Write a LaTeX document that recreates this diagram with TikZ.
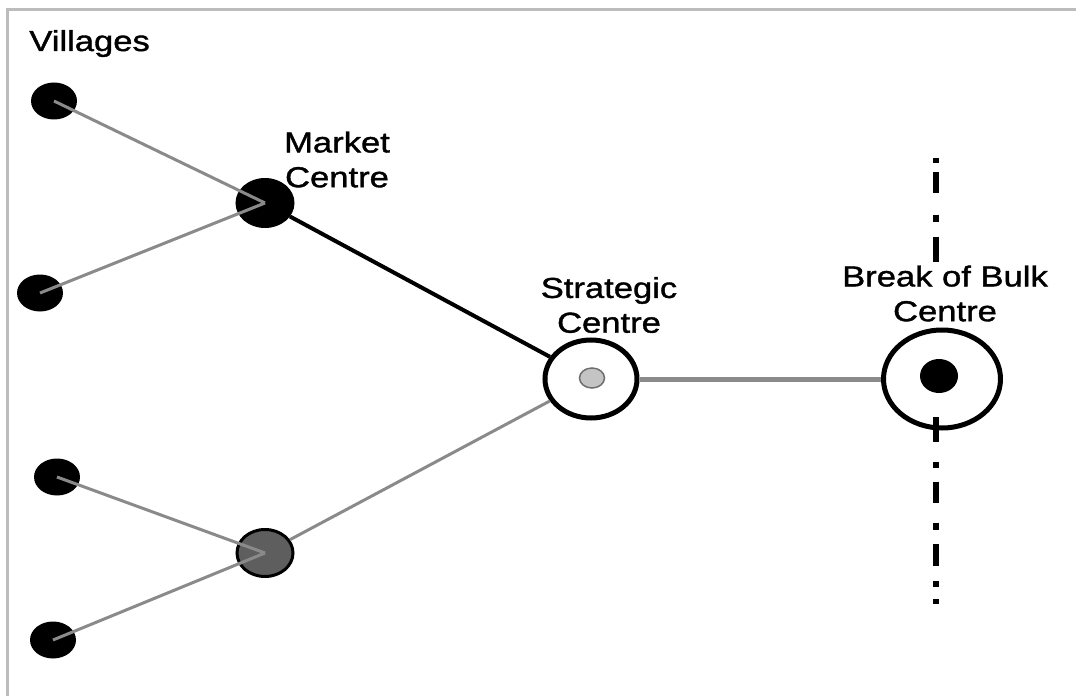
\documentclass[tikz,border=0pt]{standalone}
\usepackage{fontspec}
\usetikzlibrary{shapes.geometric}
\newfontfamily\lblfont{Liberation Sans}[FakeStretch=1.2,FakeBold=1.3]
\newcommand{\ppx}{0.02cm}
\definecolor{framegray}{HTML}{BCBCBC}
\definecolor{linkgray}{HTML}{8A8A8A}
\definecolor{hubgray}{HTML}{5E5E5E}
\definecolor{coregray}{HTML}{C4C4C4}
\definecolor{coreedge}{HTML}{6E6E6E}
\tikzset{
  lbl/.style={font=\lblfont\fontsize{16.4}{19.8}\selectfont, inner sep=0pt, align=center},
  village/.style={ellipse, fill=black, draw=none, inner sep=0pt,
    minimum width=46*\ppx, minimum height=37*\ppx},
  hub/.style={ellipse, draw=black, line width=3*\ppx, inner sep=0pt,
    minimum width=56*\ppx, minimum height=47*\ppx},
  ring/.style={ellipse, draw=black, line width=5*\ppx, fill=white, inner sep=0pt},
  feeder/.style={draw=linkgray, line width=3*\ppx},
  trunk/.style={draw=black, line width=4*\ppx},
  mainlink/.style={draw=linkgray, line width=5*\ppx},
  divide/.style={draw=black, line width=6*\ppx},
}
\begin{document}
\begin{tikzpicture}[x=0.02cm, y=-0.02cm]
  \useasboundingbox (0,0) rectangle (1076,696);
  % frame edges
  \draw[framegray, line width=3*\ppx] (7,696) -- (7,9.5) -- (1076,9.5);

  % label
  \node[lbl, anchor=base west] (vlab) at (29,51) {Villages};

  % villages
  \node[village] (v1) at (54,101) {};
  \node[village] (v2) at (40,293) {};
  \node[village] (v3) at (57,477) {};
  \node[village] (v4) at (53,640) {};

  % market centres
  \node[hub, fill=black] (m1) at (265,203) {};
  \node[hub, fill=hubgray] (m2) at (265,553) {};

  % strategic centre
  \node[ring, minimum width=92*\ppx, minimum height=78*\ppx] (sc) at (591,379) {};
  \node[ellipse, fill=coregray, draw=coreedge, line width=1.5*\ppx, inner sep=0pt,
        minimum width=25*\ppx, minimum height=20*\ppx] (scin) at (592,378) {};

  % break of bulk centre
  \node[ring, minimum width=117*\ppx, minimum height=98*\ppx] (bb) at (942,379) {};
  \node[ellipse, fill=black, inner sep=0pt,
        minimum width=38*\ppx, minimum height=34*\ppx] (bbin) at (939,376) {};

  % connectors
  \draw[feeder] (v1.center) -- (m1.center);
  \draw[feeder] (v2.center) -- (m1.center);
  \draw[feeder] (v3.center) -- (m2.center);
  \draw[feeder] (v4.center) -- (m2.center);
  \draw[trunk] (m1) -- (sc);
  \draw[feeder] (m2) -- (sc);
  \draw[mainlink] (sc) -- (bb);

  % dash-dot boundary through the break of bulk centre
  \coordinate (bt1) at (935.5,158);
  \coordinate (bt2) at (935.5,262);
  \coordinate (bb1) at (935.5,417);
  \coordinate (bb2) at (935.5,606);
  \draw[divide, dash pattern=on 2.83pt off 5.10pt on 11.90pt off 12.47pt on 3.97pt off 8.50pt on 14.17pt off 56.7pt]
    (bt1) -- (bt2);
  \draw[divide, dash pattern=on 14.17pt off 11.34pt on 3.40pt off 7.94pt on 11.90pt off 11.34pt on 3.97pt off 8.50pt on 12.47pt off 8.50pt on 3.40pt off 6.80pt on 2.83pt off 56.7pt]
    (bb1) -- (bb2);

  % labels
  \node[lbl] (mlab) at (337,159.5) {Market\\Centre};
  \node[lbl] (slab) at (609,305) {Strategic\\Centre};
  \node[lbl] (blab) at (945,293.5) {Break of Bulk\\Centre};
\end{tikzpicture}
\end{document}
